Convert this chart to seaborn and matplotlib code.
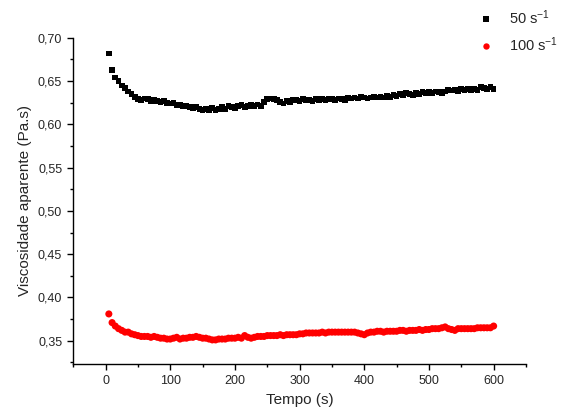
import numpy as np
import pandas as pd
import matplotlib
matplotlib.use("Agg")
import matplotlib.pyplot as plt
from matplotlib.ticker import MultipleLocator, FuncFormatter
import seaborn as sns

# tempo (s), um ponto a cada 5 s
tempo = list(range(5, 605, 5))

visc_50 = [
    0.682, 0.663, 0.654, 0.650, 0.645, 0.642, 0.638, 0.635, 0.632, 0.629,
    0.628, 0.630, 0.629, 0.627, 0.628, 0.627, 0.626, 0.627, 0.625, 0.624,
    0.625, 0.622, 0.623, 0.621, 0.621, 0.620, 0.619, 0.620, 0.618, 0.617,
    0.618, 0.617, 0.619, 0.617, 0.618, 0.620, 0.618, 0.621, 0.620, 0.619,
    0.621, 0.622, 0.620, 0.621, 0.622, 0.621, 0.623, 0.621, 0.626, 0.629,
    0.630, 0.629, 0.628, 0.626, 0.624, 0.627, 0.626, 0.628, 0.628, 0.627,
    0.629, 0.628, 0.628, 0.627, 0.629, 0.628, 0.629, 0.628, 0.629, 0.629,
    0.628, 0.630, 0.629, 0.628, 0.631, 0.630, 0.631, 0.630, 0.632, 0.631,
    0.630, 0.631, 0.632, 0.631, 0.632, 0.631, 0.633, 0.632, 0.634, 0.633,
    0.635, 0.634, 0.636, 0.635, 0.634, 0.636, 0.635, 0.637, 0.636, 0.637,
    0.636, 0.638, 0.637, 0.636, 0.638, 0.640, 0.639, 0.640, 0.638, 0.641,
    0.640, 0.641, 0.639, 0.641, 0.640, 0.643, 0.642, 0.641, 0.643, 0.641,
]

visc_100 = [
    0.381, 0.371, 0.367, 0.364, 0.362, 0.360, 0.360, 0.358, 0.357, 0.356,
    0.355, 0.355, 0.355, 0.354, 0.355, 0.354, 0.353, 0.353, 0.352, 0.352,
    0.353, 0.354, 0.352, 0.353, 0.353, 0.354, 0.354, 0.355, 0.354, 0.353,
    0.353, 0.352, 0.351, 0.351, 0.352, 0.352, 0.352, 0.353, 0.353, 0.353,
    0.354, 0.353, 0.356, 0.354, 0.353, 0.354, 0.355, 0.355, 0.355, 0.356,
    0.356, 0.356, 0.356, 0.357, 0.356, 0.357, 0.357, 0.357, 0.357, 0.358,
    0.358, 0.359, 0.359, 0.359, 0.359, 0.359, 0.360, 0.359, 0.360, 0.360,
    0.360, 0.360, 0.360, 0.360, 0.360, 0.360, 0.360, 0.359, 0.358, 0.357,
    0.359, 0.360, 0.360, 0.361, 0.361, 0.360, 0.361, 0.361, 0.361, 0.361,
    0.362, 0.362, 0.361, 0.362, 0.362, 0.362, 0.363, 0.362, 0.363, 0.363,
    0.364, 0.364, 0.364, 0.365, 0.366, 0.364, 0.363, 0.362, 0.364, 0.364,
    0.364, 0.364, 0.364, 0.364, 0.365, 0.365, 0.365, 0.365, 0.365, 0.367,
]

series = ["50 s$^{-1}$", "100 s$^{-1}$"]
cores = ["black", "red"]

df = pd.DataFrame({
    "tempo": tempo * 2,
    "visc": visc_50 + visc_100,
    "serie": [series[0]] * len(tempo) + [series[1]] * len(tempo),
})

sns.set_style("ticks")
plt.rcParams["font.family"] = ["Liberation Sans", "DejaVu Sans"]
plt.rcParams["mathtext.fontset"] = "custom"
plt.rcParams["mathtext.rm"] = "Liberation Sans"
plt.rcParams["mathtext.it"] = "Liberation Sans:italic"

fig = plt.figure(figsize=(5.68, 4.11), dpi=100)
ax = fig.add_axes([0.129, 0.114, 0.797, 0.794])

sns.scatterplot(data=df, x="tempo", y="visc", hue="serie", style="serie",
                size="serie",
                palette=dict(zip(series, cores)),
                markers={series[0]: "s", series[1]: "o"},
                sizes={series[0]: 17, series[1]: 26},
                linewidth=0, ax=ax)

ax.set_xticks(range(0, 700, 100))
ax.set_xlim(-50, 650)
ax.set_ylim(0.323, 0.70)
ax.xaxis.set_minor_locator(MultipleLocator(50))
ax.yaxis.set_major_locator(MultipleLocator(0.05))
ax.yaxis.set_minor_locator(MultipleLocator(0.025))
ax.yaxis.set_major_formatter(FuncFormatter(lambda v, p: f"{v:.2f}".replace(".", ",")))
ax.tick_params(which="major", direction="out", length=4.5, width=1, labelsize=9, color="black")
ax.tick_params(which="minor", direction="out", length=2.5, width=1, color="black")
sns.despine(ax=ax)
for s in ["left", "bottom"]:
    ax.spines[s].set_color("black")
    ax.spines[s].set_linewidth(1)

ax.set_xlabel("Tempo (s)", fontsize=11)
ax.set_ylabel("Viscosidade aparente (Pa.s)", fontsize=11)

ax.legend(title=None, loc="upper left", bbox_to_anchor=(0.85, 1.13),
          frameon=False, fontsize=10.5, markerscale=0.9,
          handletextpad=0.6, labelspacing=0.6)

fig.savefig("out.png", dpi=100)
